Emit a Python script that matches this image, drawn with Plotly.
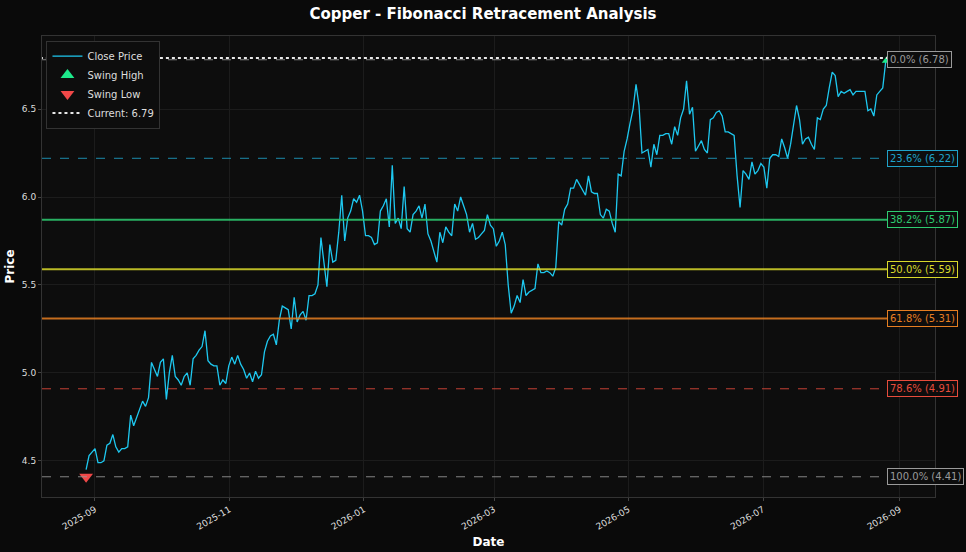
import pandas as pd
import plotly.graph_objects as go

# ---------- data ----------
close_prices = [
    4.45, 4.53, 4.55, 4.57, 4.49, 4.49, 4.50, 4.59, 4.60, 4.65, 4.58, 4.55, 4.57, 4.57, 4.58, 4.76, 4.70, 4.75, 4.80, 4.84, 4.81, 4.86, 5.06,
    5.02, 4.98, 5.06, 5.08, 4.85, 5.00, 5.10, 4.98, 4.96, 4.93, 4.98, 5.00, 4.93, 5.08, 5.10, 5.13, 5.15, 5.24, 5.07, 5.05, 5.04,
    5.04, 4.93, 4.96, 4.94, 5.04, 5.09, 5.05, 5.10, 5.05, 5.02, 4.97, 5.00, 4.95, 5.01, 4.97, 4.99, 5.12, 5.18, 5.21, 5.22, 5.16,
    5.30, 5.38, 5.37, 5.36, 5.25, 5.43, 5.29, 5.33, 5.35, 5.30, 5.44, 5.44, 5.45, 5.50, 5.77, 5.62, 5.49, 5.73, 5.63, 5.64, 5.80,
    6.01, 5.75, 5.88, 5.92, 5.99, 5.97, 6.01, 5.92, 5.78, 5.78, 5.77, 5.73, 5.74, 5.92, 5.95, 5.99, 5.83, 6.18, 5.85, 5.88,
    5.82, 6.06, 5.82, 5.80, 5.90, 5.92, 5.95, 5.88, 5.96, 5.79, 5.75, 5.69, 5.63, 5.80, 5.74, 5.83, 5.80, 5.78, 5.96, 5.92, 6.00, 5.95,
    5.90, 5.80, 5.85, 5.76, 5.77, 5.79, 5.81, 5.90, 5.84, 5.82, 5.72, 5.75, 5.80, 5.73, 5.50, 5.34, 5.38, 5.44, 5.40, 5.53, 5.44, 5.46, 5.47,
    5.48, 5.62, 5.57, 5.57, 5.58, 5.57, 5.55, 5.60, 5.86, 5.84, 5.93, 5.96, 6.05, 6.05, 6.10, 6.07, 6.04, 6.01, 6.12, 6.03, 6.02, 6.02, 5.90, 5.88, 5.93, 5.92,
    5.85, 5.80, 6.13, 6.12, 6.26, 6.33, 6.42, 6.50, 6.64, 6.52, 6.25, 6.26, 6.27, 6.17, 6.30, 6.24, 6.35, 6.35, 6.36, 6.36, 6.30, 6.40, 6.35, 6.45, 6.50,
    6.66, 6.47, 6.51, 6.26, 6.29, 6.32, 6.27, 6.25, 6.44, 6.45, 6.48, 6.49, 6.46, 6.37, 6.37, 6.36, 6.35, 6.12, 5.94, 6.15, 6.13, 6.10, 6.20,
    6.13, 6.15, 6.19, 6.17, 6.05, 6.22, 6.24, 6.24, 6.23, 6.33, 6.28, 6.22, 6.30, 6.40, 6.52, 6.44, 6.30, 6.33, 6.34, 6.30, 6.27, 6.45, 6.44, 6.50,
    6.52, 6.62, 6.71, 6.69, 6.57, 6.60, 6.59, 6.60, 6.61, 6.58, 6.60, 6.60, 6.60, 6.60, 6.49, 6.50, 6.46, 6.58, 6.60, 6.62, 6.77, 6.79,
]
start_date = "2025-08-28"
end_date = "2026-08-27"

swing_high = 6.78
swing_low = 4.41
current = 6.79

fib_names = ["0.0%", "23.6%", "38.2%", "50.0%", "61.8%", "78.6%", "100.0%"]
fib_values = [6.78, 6.22, 5.87, 5.59, 5.31, 4.91, 4.41]
fib_colors = ["#9a9a9a", "#1fa2c9", "#2ecc71", "#d9d92b", "#e67e22", "#e74c3c", "#9a9a9a"]
fib_dash = ["dash", "dash", "solid", "solid", "solid", "dash", "dash"]
fib_width = [1, 1, 2, 2, 2, 1, 1]

dates = pd.date_range(start_date, end_date, periods=len(close_prices))

fig = go.Figure()

for name, val, col, dsh, w in zip(fib_names, fib_values, fib_colors, fib_dash, fib_width):
    fig.add_hline(y=val, line=dict(color=col, dash=dsh, width=w), opacity=0.85)
    fig.add_annotation(x=dates[-1], y=val, xref="x", yref="y", xanchor="left", xshift=-2,
                       text=f"{name} ({val:.2f})", showarrow=False,
                       font=dict(color=col, size=10, family="DejaVu Sans"),
                       bgcolor="#0d0d0d", bordercolor=col, borderwidth=1, borderpad=2)

fig.add_trace(go.Scatter(x=dates, y=close_prices, mode="lines", name="Close Price",
                         line=dict(color="#1ec8f0", width=1.3)))
fig.add_trace(go.Scatter(x=[dates[-1]], y=[swing_high], mode="markers", name="Swing High",
                         marker=dict(symbol="triangle-up", size=12, color="#1de98b")))
fig.add_trace(go.Scatter(x=[dates[0]], y=[swing_low], mode="markers", name="Swing Low",
                         marker=dict(symbol="triangle-down", size=12, color="#f04848")))
fig.add_trace(go.Scatter(x=[dates[0] - pd.Timedelta(days=40), dates[-1] + pd.Timedelta(days=40)],
                         y=[current, current], mode="lines", name=f"Current: {current:.2f}",
                         line=dict(color="#e8e8e8", dash="dot", width=2)))

fig.update_layout(
    width=966, height=552,
    title=dict(text="<b>Copper - Fibonacci Retracement Analysis</b>", x=0.5, y=0.985,
               font=dict(size=15, color="white", family="DejaVu Sans")),
    paper_bgcolor="#0a0a0a", plot_bgcolor="#0d0d0d",
    font=dict(color="#dddddd", family="DejaVu Sans", size=10),
    margin=dict(l=42, r=31, t=36, b=55, autoexpand=False),
    legend=dict(x=0.005, y=0.99, xanchor="left", yanchor="top", bgcolor="#0d0d0d",
                bordercolor="#333333", borderwidth=1, font=dict(size=10, color="#dddddd")),
    showlegend=True,
)
fig.update_xaxes(title=dict(text="<b>Date</b>", font=dict(size=12, color="white"), standoff=6),
                 range=["2025-08-08", "2026-09-17"], tickformat="%Y-%m", dtick="M2",
                 tick0="2025-09-01", tickangle=-30, ticks="outside", ticklen=3,
                 showgrid=True, gridcolor="#1c1c1c", showline=True, linecolor="#333333",
                 mirror=True, zeroline=False, tickfont=dict(size=9), automargin=False)
fig.update_yaxes(title=dict(text="<b>Price</b>", font=dict(size=12, color="white"), standoff=4),
                 range=[4.295, 6.915], dtick=0.5, tickformat=".1f", ticks="outside", ticklen=3,
                 showgrid=True, gridcolor="#1c1c1c", showline=True, linecolor="#333333",
                 mirror=True, zeroline=False, tickfont=dict(size=9), automargin=False)

fig.write_html("out.html", config={"displayModeBar": False},
               post_script="document.body.style.margin='0';document.body.style.background='#0a0a0a';")
